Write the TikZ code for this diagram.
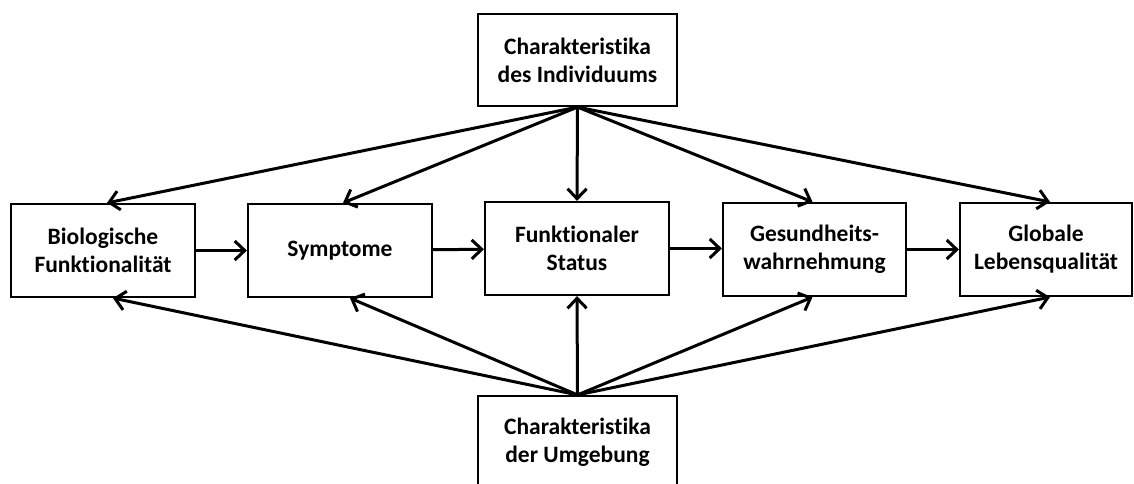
\documentclass[tikz,border=0pt]{standalone}
\usepackage{fontspec}
\setmainfont{Carlito}[Ligatures=NoCommon]
\usetikzlibrary{arrows.meta}
\begin{document}
\begin{tikzpicture}[x=1pt,y=1pt,
  box/.style={draw=black, line width=2.2pt, fill=white, align=center,
    font=\bfseries\fontsize{23.5}{28}\selectfont, inner sep=0pt},
  flow/.style={line width=3pt, -{Straight Barb[length=10pt,width=19pt,line width=3pt]}}]
  \clip (0,0) rectangle (1134,483);
  \useasboundingbox (0,0) rectangle (1134,483);
  % sources
  \node[box, minimum width=199pt, minimum height=92pt] (ind) at (577.5,423) {Charakteristika\\des Individuums};
  \node[box, minimum width=199pt, minimum height=92pt] (umg) at (577.5,41) {Charakteristika\\der Umgebung};
  % main chain
  \node[box, minimum width=184pt, minimum height=93pt] (bio) at (103,232.5) {Biologische\\Funktionalität};
  \node[box, minimum width=184pt, minimum height=93pt] (sym) at (340,232.5) {Symptome};
  \node[box, minimum width=184pt, minimum height=93pt] (fun) at (577,234.5) {Funktionaler\\Status};
  \node[box, minimum width=183pt, minimum height=93pt] (ges) at (814.5,233.5) {Gesundheits-\\wahrnehmung};
  \node[box, minimum width=172pt, minimum height=93pt] (glo) at (1046,233.5) {Globale\\Lebensqualität};
  % chain arrows
  \draw[flow] (bio.east) -- (sym.west);
  \draw[flow] (sym) -- (fun);
  \draw[flow] (fun.east) -- (ges.west |- fun.east);
  \draw[flow] (ges) -- (glo);
  % from characteristics of the individual
  \draw[flow] (ind.south) -- ([xshift=4pt]bio.north);
  \draw[flow] (ind.south) -- ([xshift=3pt]sym.north);
  \draw[flow] (ind.south) -- (fun.north);
  \draw[flow] (ind.south) -- ([xshift=-2pt]ges.north);
  \draw[flow] (ind.south) -- ([xshift=4pt]glo.north);
  % from characteristics of the environment
  \draw[flow] (umg.north) -- ([xshift=10pt]bio.south);
  \draw[flow] (umg.north) -- ([xshift=10pt]sym.south);
  \draw[flow] (umg.north) -- (fun.south);
  \draw[flow] (umg.north) -- ([xshift=-2pt]ges.south);
  \draw[flow] (umg.north) -- ([xshift=4pt]glo.south);
\end{tikzpicture}
\end{document}
